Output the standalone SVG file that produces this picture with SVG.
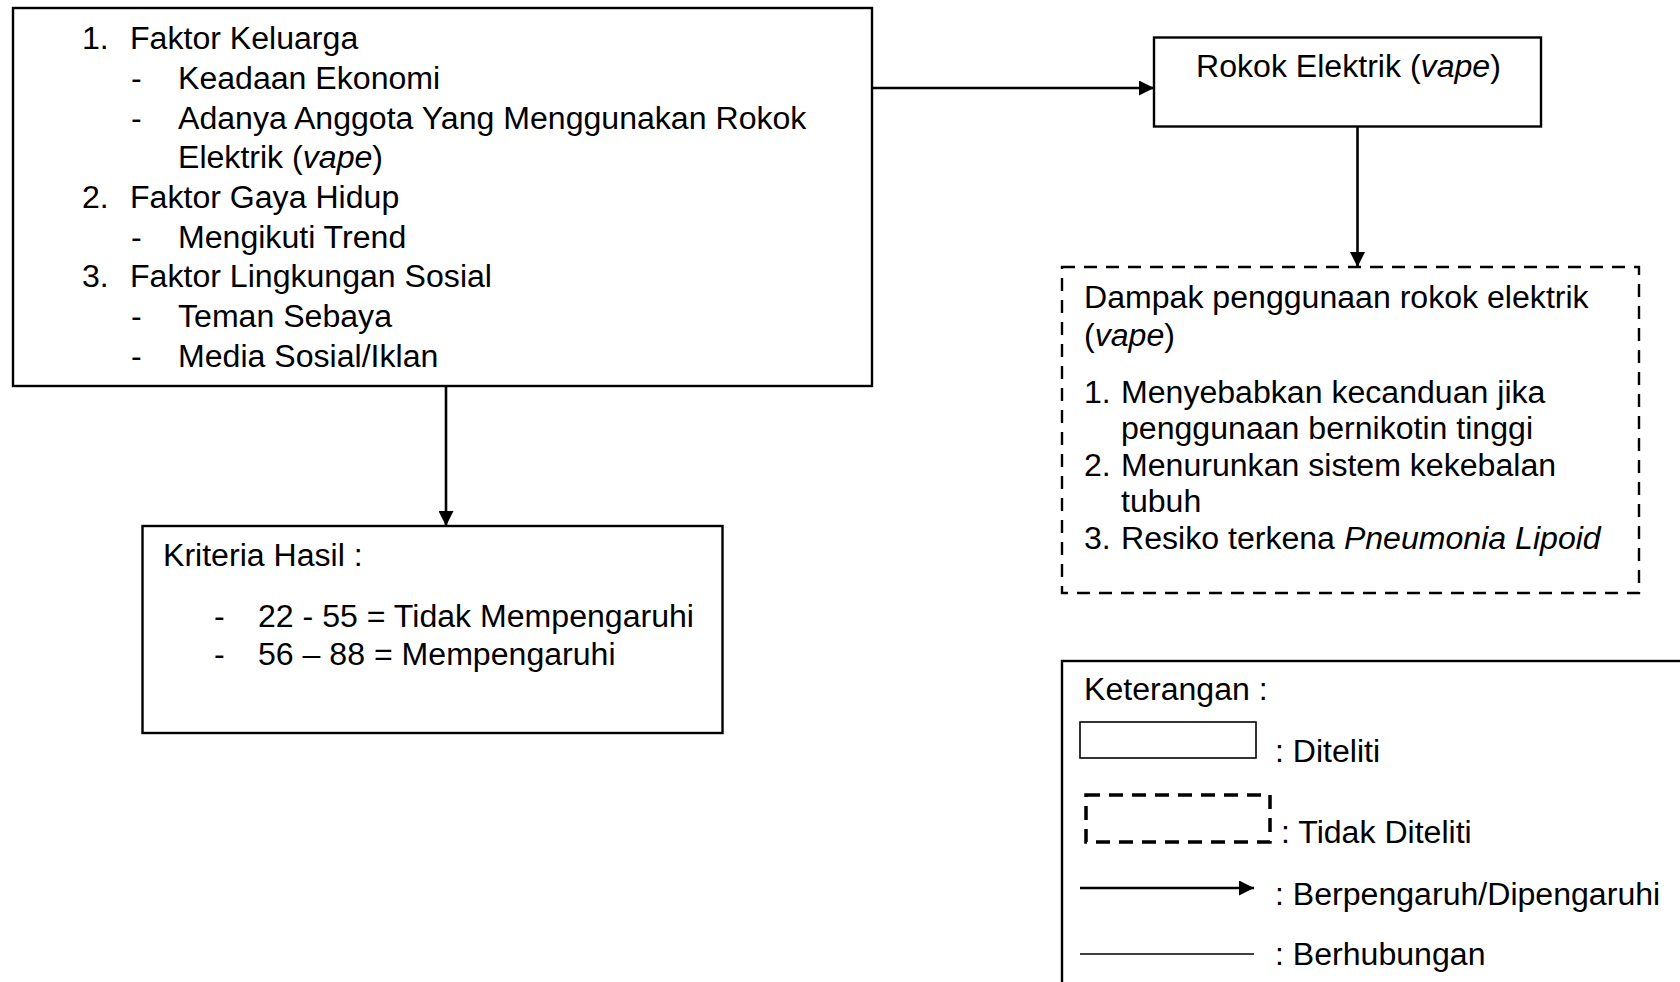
<svg xmlns="http://www.w3.org/2000/svg" width="1680" height="982" viewBox="0 0 1680 982">
<defs>
<style>
text{font-family:"Liberation Sans",Arial,sans-serif;font-size:32.1px;fill:#000}
.box{fill:#fff;stroke:#000;stroke-width:2.4}
.dash{fill:#fff;stroke:#000;stroke-width:2.4;stroke-dasharray:13 9}
.line{fill:none;stroke:#000;stroke-width:2.6}
.it{font-style:italic}
</style>
<marker id="ah" viewBox="0 0 15 15" refX="15" refY="7.5" markerWidth="15" markerHeight="15" markerUnits="userSpaceOnUse" orient="auto">
<path d="M0,0 L15,7.5 L0,15 z" fill="#000"/>
</marker>
</defs>
<rect width="1680" height="982" fill="#fff"/>
<g id="connectors">
<line class="line" x1="872" y1="88" x2="1154" y2="88" marker-end="url(#ah)"/>
<line class="line" x1="1357.5" y1="126" x2="1357.5" y2="267" marker-end="url(#ah)"/>
<line class="line" x1="446" y1="386" x2="446" y2="526" marker-end="url(#ah)"/>
</g>
<g id="faktor">
<rect class="box" x="13" y="8" width="859" height="378"/>
<text x="82" y="49">1.</text><text x="130" y="49">Faktor Keluarga</text>
<text x="131" y="89">-</text><text x="178" y="89">Keadaan Ekonomi</text>
<text x="131" y="128.5">-</text><text x="178" y="128.5">Adanya Anggota Yang Menggunakan Rokok</text>
<text x="178" y="168">Elektrik (<tspan class="it">vape</tspan>)</text>
<text x="82" y="208">2.</text><text x="130" y="208">Faktor Gaya Hidup</text>
<text x="131" y="247.5">-</text><text x="178" y="247.5">Mengikuti Trend</text>
<text x="82" y="287">3.</text><text x="130" y="287">Faktor Lingkungan Sosial</text>
<text x="131" y="327">-</text><text x="178" y="327">Teman Sebaya</text>
<text x="131" y="366.5">-</text><text x="178" y="366.5">Media Sosial/Iklan</text>
</g>
<g id="rokok">
<rect class="box" x="1154" y="37.5" width="387" height="89"/>
<text x="1196" y="77">Rokok Elektrik (<tspan class="it">vape</tspan>)</text>
</g>
<g id="dampak">
<rect class="dash" x="1062" y="267" width="577" height="326"/>
<text x="1084" y="308">Dampak penggunaan rokok elektrik</text>
<text x="1084" y="346">(<tspan class="it">vape</tspan>)</text>
<text x="1084" y="403">1.</text><text x="1121" y="403">Menyebabkan kecanduan jika</text>
<text x="1121" y="439">penggunaan bernikotin tinggi</text>
<text x="1084" y="476">2.</text><text x="1121" y="476">Menurunkan sistem kekebalan</text>
<text x="1121" y="512">tubuh</text>
<text x="1084" y="548.5">3.</text><text x="1121" y="548.5">Resiko terkena <tspan class="it">Pneumonia Lipoid</tspan></text>
</g>
<g id="kriteria">
<rect class="box" x="142.5" y="526" width="580" height="207"/>
<text x="163" y="566">Kriteria Hasil :</text>
<text x="214" y="627">-</text><text x="258" y="627">22 - 55 = Tidak Mempengaruhi</text>
<text x="214" y="665">-</text><text x="258" y="665">56 – 88 = Mempengaruhi</text>
</g>
<g id="keterangan">
<rect class="box" x="1062" y="661" width="700" height="400"/>
<text x="1084" y="700">Keterangan :</text>
<rect x="1080" y="722" width="176" height="36" fill="#fff" stroke="#000" stroke-width="1.6"/>
<text x="1275" y="762">: Diteliti</text>
<rect x="1086" y="795" width="184" height="47" fill="#fff" stroke="#000" stroke-width="3.5" stroke-dasharray="14 9"/>
<text x="1281" y="843">: Tidak Diteliti</text>
<line class="line" x1="1080" y1="888" x2="1254" y2="888" marker-end="url(#ah)"/>
<text x="1275" y="905">: Berpengaruh/Dipengaruhi</text>
<line x1="1080" y1="954" x2="1254" y2="954" stroke="#000" stroke-width="1.6"/>
<text x="1275" y="965">: Berhubungan</text>
</g>
</svg>
